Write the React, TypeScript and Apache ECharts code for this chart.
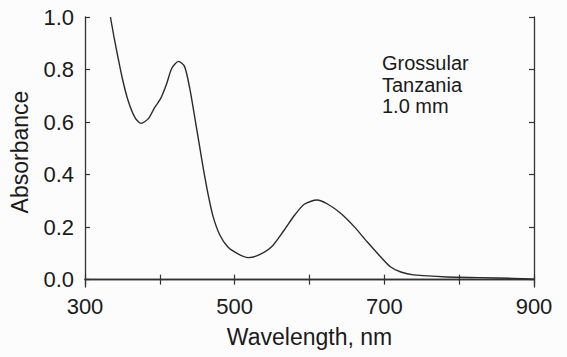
import React, { useEffect, useRef } from "react";
import * as echarts from "echarts";

const wavelengths = [334, 340, 350, 358, 367, 375, 385, 393, 401, 409, 416, 425, 433, 440, 447, 453, 458, 465, 471, 480, 491, 505, 518, 531, 549, 566, 580, 593, 610, 624, 642, 660, 677, 695, 708, 722, 739, 784, 828, 872, 900];
const absorbance = [1.0, 0.905, 0.765, 0.678, 0.616, 0.595, 0.614, 0.655, 0.689, 0.745, 0.805, 0.831, 0.812, 0.728, 0.612, 0.51, 0.425, 0.318, 0.242, 0.171, 0.124, 0.097, 0.084, 0.092, 0.124, 0.188, 0.245, 0.287, 0.303, 0.288, 0.252, 0.201, 0.144, 0.087, 0.049, 0.029, 0.018, 0.010, 0.0076, 0.005, 0.002];
const yTicks = [0, 0.2, 0.4, 0.6, 0.8, 1.0];
const xLabelTicks = [300, 500, 700, 900];
const annotation = ["Grossular", "Tanzania", "1.0 mm"];

const FONT = "'Liberation Sans', Arial, Helvetica, sans-serif";
const INK = "#1a1a1a";

export default function App() {
  const ref = useRef<HTMLDivElement>(null);
  useEffect(() => {
    if (!ref.current) return;
    const chart = echarts.init(ref.current, null, { renderer: "svg" });
    const axisLine = { show: true, lineStyle: { color: "#333", width: 1.3 } };
    const tick = { show: true, inside: true, length: 5, lineStyle: { color: "#333", width: 1.2 } };
    chart.setOption({
      animation: false,
      backgroundColor: "#fcfcfc",
      grid: { left: 83, right: 33, top: 17, bottom: 70 },
      xAxis: [
        {
          type: "value",
          min: 300,
          max: 900,
          interval: 100,
          position: "bottom",
          axisLine,
          axisTick: tick,
          splitLine: { show: false },
          axisLabel: {
            color: INK,
            fontFamily: FONT,
            fontSize: 22,
            margin: 8,
            formatter: (v: number) => (xLabelTicks.includes(Math.round(v)) ? String(Math.round(v)) : ""),
          },
          name: "Wavelength, nm",
          nameLocation: "middle",
          nameGap: 38,
          nameTextStyle: { color: INK, fontFamily: FONT, fontSize: 23 },
        },
        {
          type: "value",
          min: 300,
          max: 900,
          interval: 100,
          position: "top",
          axisLine,
          axisTick: tick,
          splitLine: { show: false },
          axisLabel: { show: false },
        },
      ],
      yAxis: [
        {
          type: "value",
          min: -0.028,
          max: 1.0,
          position: "left",
          axisLine,
          axisTick: { ...tick, customValues: yTicks },
          splitLine: { show: false },
          axisLabel: {
            color: INK,
            fontFamily: FONT,
            fontSize: 22,
            margin: 11,
            customValues: yTicks,
            formatter: (v: number) => v.toFixed(1),
          },
          name: "Absorbance",
          nameLocation: "middle",
          nameGap: 54,
          nameRotate: 90,
          nameTextStyle: { color: INK, fontFamily: FONT, fontSize: 23 },
        },
        {
          type: "value",
          min: -0.028,
          max: 1.0,
          position: "right",
          axisLine,
          axisTick: { ...tick, customValues: yTicks },
          splitLine: { show: false },
          axisLabel: { show: false },
        },
      ],
      series: [
        {
          type: "line",
          data: wavelengths.map((w, i) => [w, absorbance[i]]),
          smooth: 0.25,
          showSymbol: false,
          symbol: "none",
          clip: true,
          lineStyle: { color: "#2a2a2a", width: 1.4 },
        },
      ],
      graphic: [
        {
          type: "text",
          left: 382,
          top: 52,
          style: {
            text: annotation.join("\n"),
            fill: INK,
            font: `20px ${FONT}`,
            lineHeight: 21.7,
          },
        },
      ],
    });
    return () => chart.dispose();
  }, []);
  return <div ref={ref} style={{ width: 567, height: 357, position: "absolute", left: 0, top: 0 }} />;
}
